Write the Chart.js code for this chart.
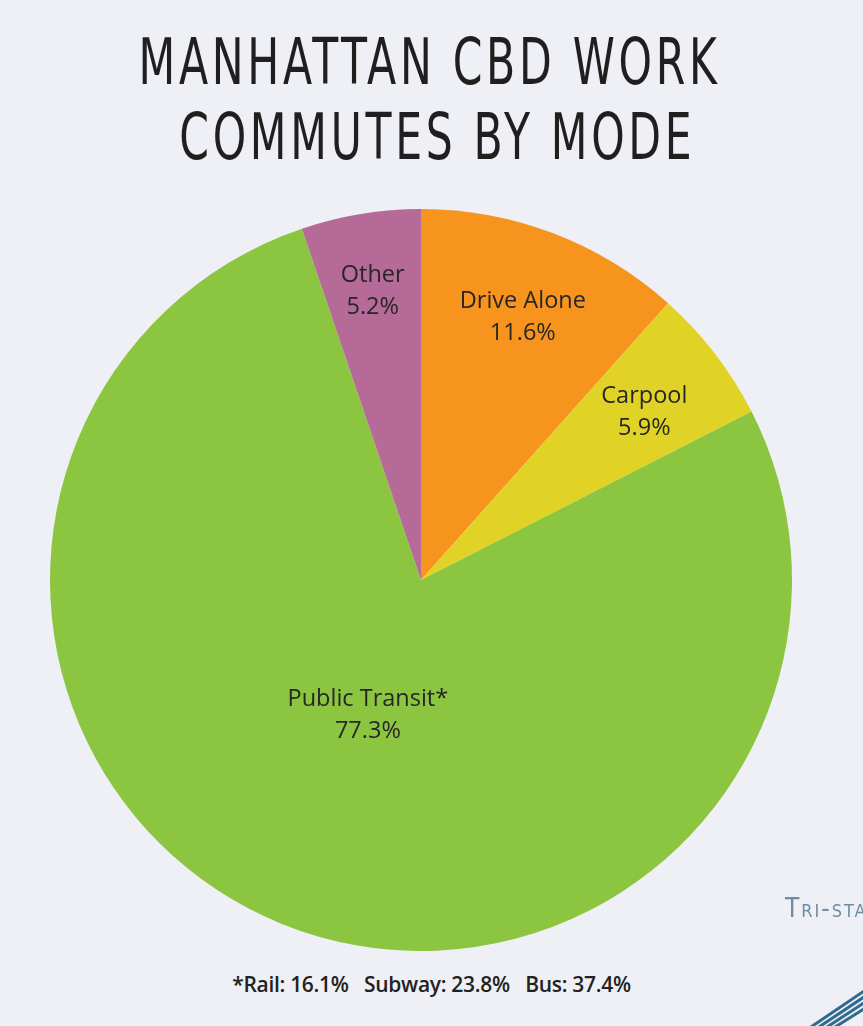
<!DOCTYPE html>
<html>
<head>
<meta charset="utf-8">
<script src="https://cdn.jsdelivr.net/npm/chart.js@4.4.1/dist/chart.umd.min.js"></script>
<style>
  html, body { margin: 0; padding: 0; }
  body {
    width: 863px; height: 1026px; overflow: hidden; position: relative;
    background: #eff0f5;
  }
  .title {
    position: absolute; left: 0; width: 863px; text-align: center;
    font-family: "DejaVu Sans Condensed", "Liberation Sans Narrow", Roboto, sans-serif;
    font-stretch: condensed; letter-spacing: 5px;
    font-weight: normal; color: #1f1f1f; white-space: nowrap;
  }
  .title span { display: inline-block; transform-origin: center; }
  #chart-box { position: absolute; left: 50px; top: 209px; width: 742px; height: 742px; }
  #note {
    position: absolute; top: 970px; left: 0; width: 863px; text-align: center;
    font-family: "Open Sans", "Noto Sans", sans-serif; font-weight: 600;
    font-size: 21px; color: #222; white-space: pre; letter-spacing: -0.3px;
  }
  #brand {
    position: absolute; left: 785px; top: 893px; white-space: nowrap;
    font-family: "DejaVu Sans Condensed", Roboto, sans-serif; font-stretch: condensed;
    font-variant: small-caps; letter-spacing: 2px; font-size: 26px; color: #6f8ca3;
  }
  #stripes { position: absolute; left: 800px; top: 985px; }
</style>
</head>
<body>
<div class="title" id="t1" style="top:30px;font-size:64px;line-height:64px"><span>MANHATTAN CBD WORK</span></div>
<div class="title" id="t2" style="top:105px;font-size:64px;line-height:64px"><span>COMMUTES BY MODE</span></div>
<div id="chart-box"><canvas id="pie"></canvas></div>
<div id="note"></div>
<div id="brand">Tri-state</div>
<svg id="stripes" width="63" height="41">
  <g stroke="#2f6b8e" stroke-width="3">
    <line x1="8" y1="44" x2="70" y2="2"/>
    <line x1="16" y1="44" x2="70" y2="8"/>
    <line x1="24" y1="44" x2="70" y2="14"/>
    <line x1="32" y1="44" x2="70" y2="20"/>
  </g>
</svg>
<script>
// slices, clockwise from 12 o'clock
const modes  = ['Drive Alone', 'Carpool', 'Public Transit*', 'Other'];
const shares = [11.6, 5.9, 77.3, 5.2];
const colors = ['#f7941e', '#e1d325', '#8cc540', '#b56a97'];
// transit split shown in the footnote
const transitModes  = ['Rail', 'Subway', 'Bus'];
const transitShares = [16.1, 23.8, 37.4];

// label distance from centre, as a fraction of the radius
const labelRadius = [0.77, 0.76, 0.38, 0.80];

// fit the title lines to the widths in the original
function fitLine(id, width, shift) {
  const span = document.querySelector('#' + id + ' span');
  const w = span.getBoundingClientRect().width;
  span.style.transform = 'translateX(' + shift + 'px) scaleX(' + (width / w) + ')';
}
fitLine('t1', 582, -2);
fitLine('t2', 516, 6);

document.getElementById('note').textContent =
  '*' + transitModes.map((m, i) => m + ': ' + transitShares[i].toFixed(1) + '%').join('   ');

const sliceLabels = {
  id: 'sliceLabels',
  afterDatasetsDraw(chart) {
    const ctx = chart.ctx;
    const meta = chart.getDatasetMeta(0);
    ctx.save();
    ctx.fillStyle = '#262626';
    ctx.font = '23.5px "Open Sans", "Noto Sans", sans-serif';
    ctx.textAlign = 'center';
    ctx.textBaseline = 'alphabetic';
    meta.data.forEach((arc, i) => {
      const mid = (arc.startAngle + arc.endAngle) / 2;
      const r = arc.outerRadius * labelRadius[i];
      const x = arc.x + Math.cos(mid) * r;
      const y = arc.y + Math.sin(mid) * r;
      ctx.fillText(modes[i], x, y - 5);
      ctx.fillText(shares[i].toFixed(1) + '%', x, y + 27);
    });
    ctx.restore();
  }
};

new Chart(document.getElementById('pie'), {
  type: 'pie',
  data: {
    labels: modes,
    datasets: [{
      data: shares,
      backgroundColor: colors,
      borderWidth: 0
    }]
  },
  options: {
    responsive: true,
    maintainAspectRatio: false,
    animation: false,
    layout: { padding: 0 },
    plugins: {
      legend: { display: false },
      tooltip: { enabled: false }
    }
  },
  plugins: [sliceLabels]
});
</script>
</body>
</html>
